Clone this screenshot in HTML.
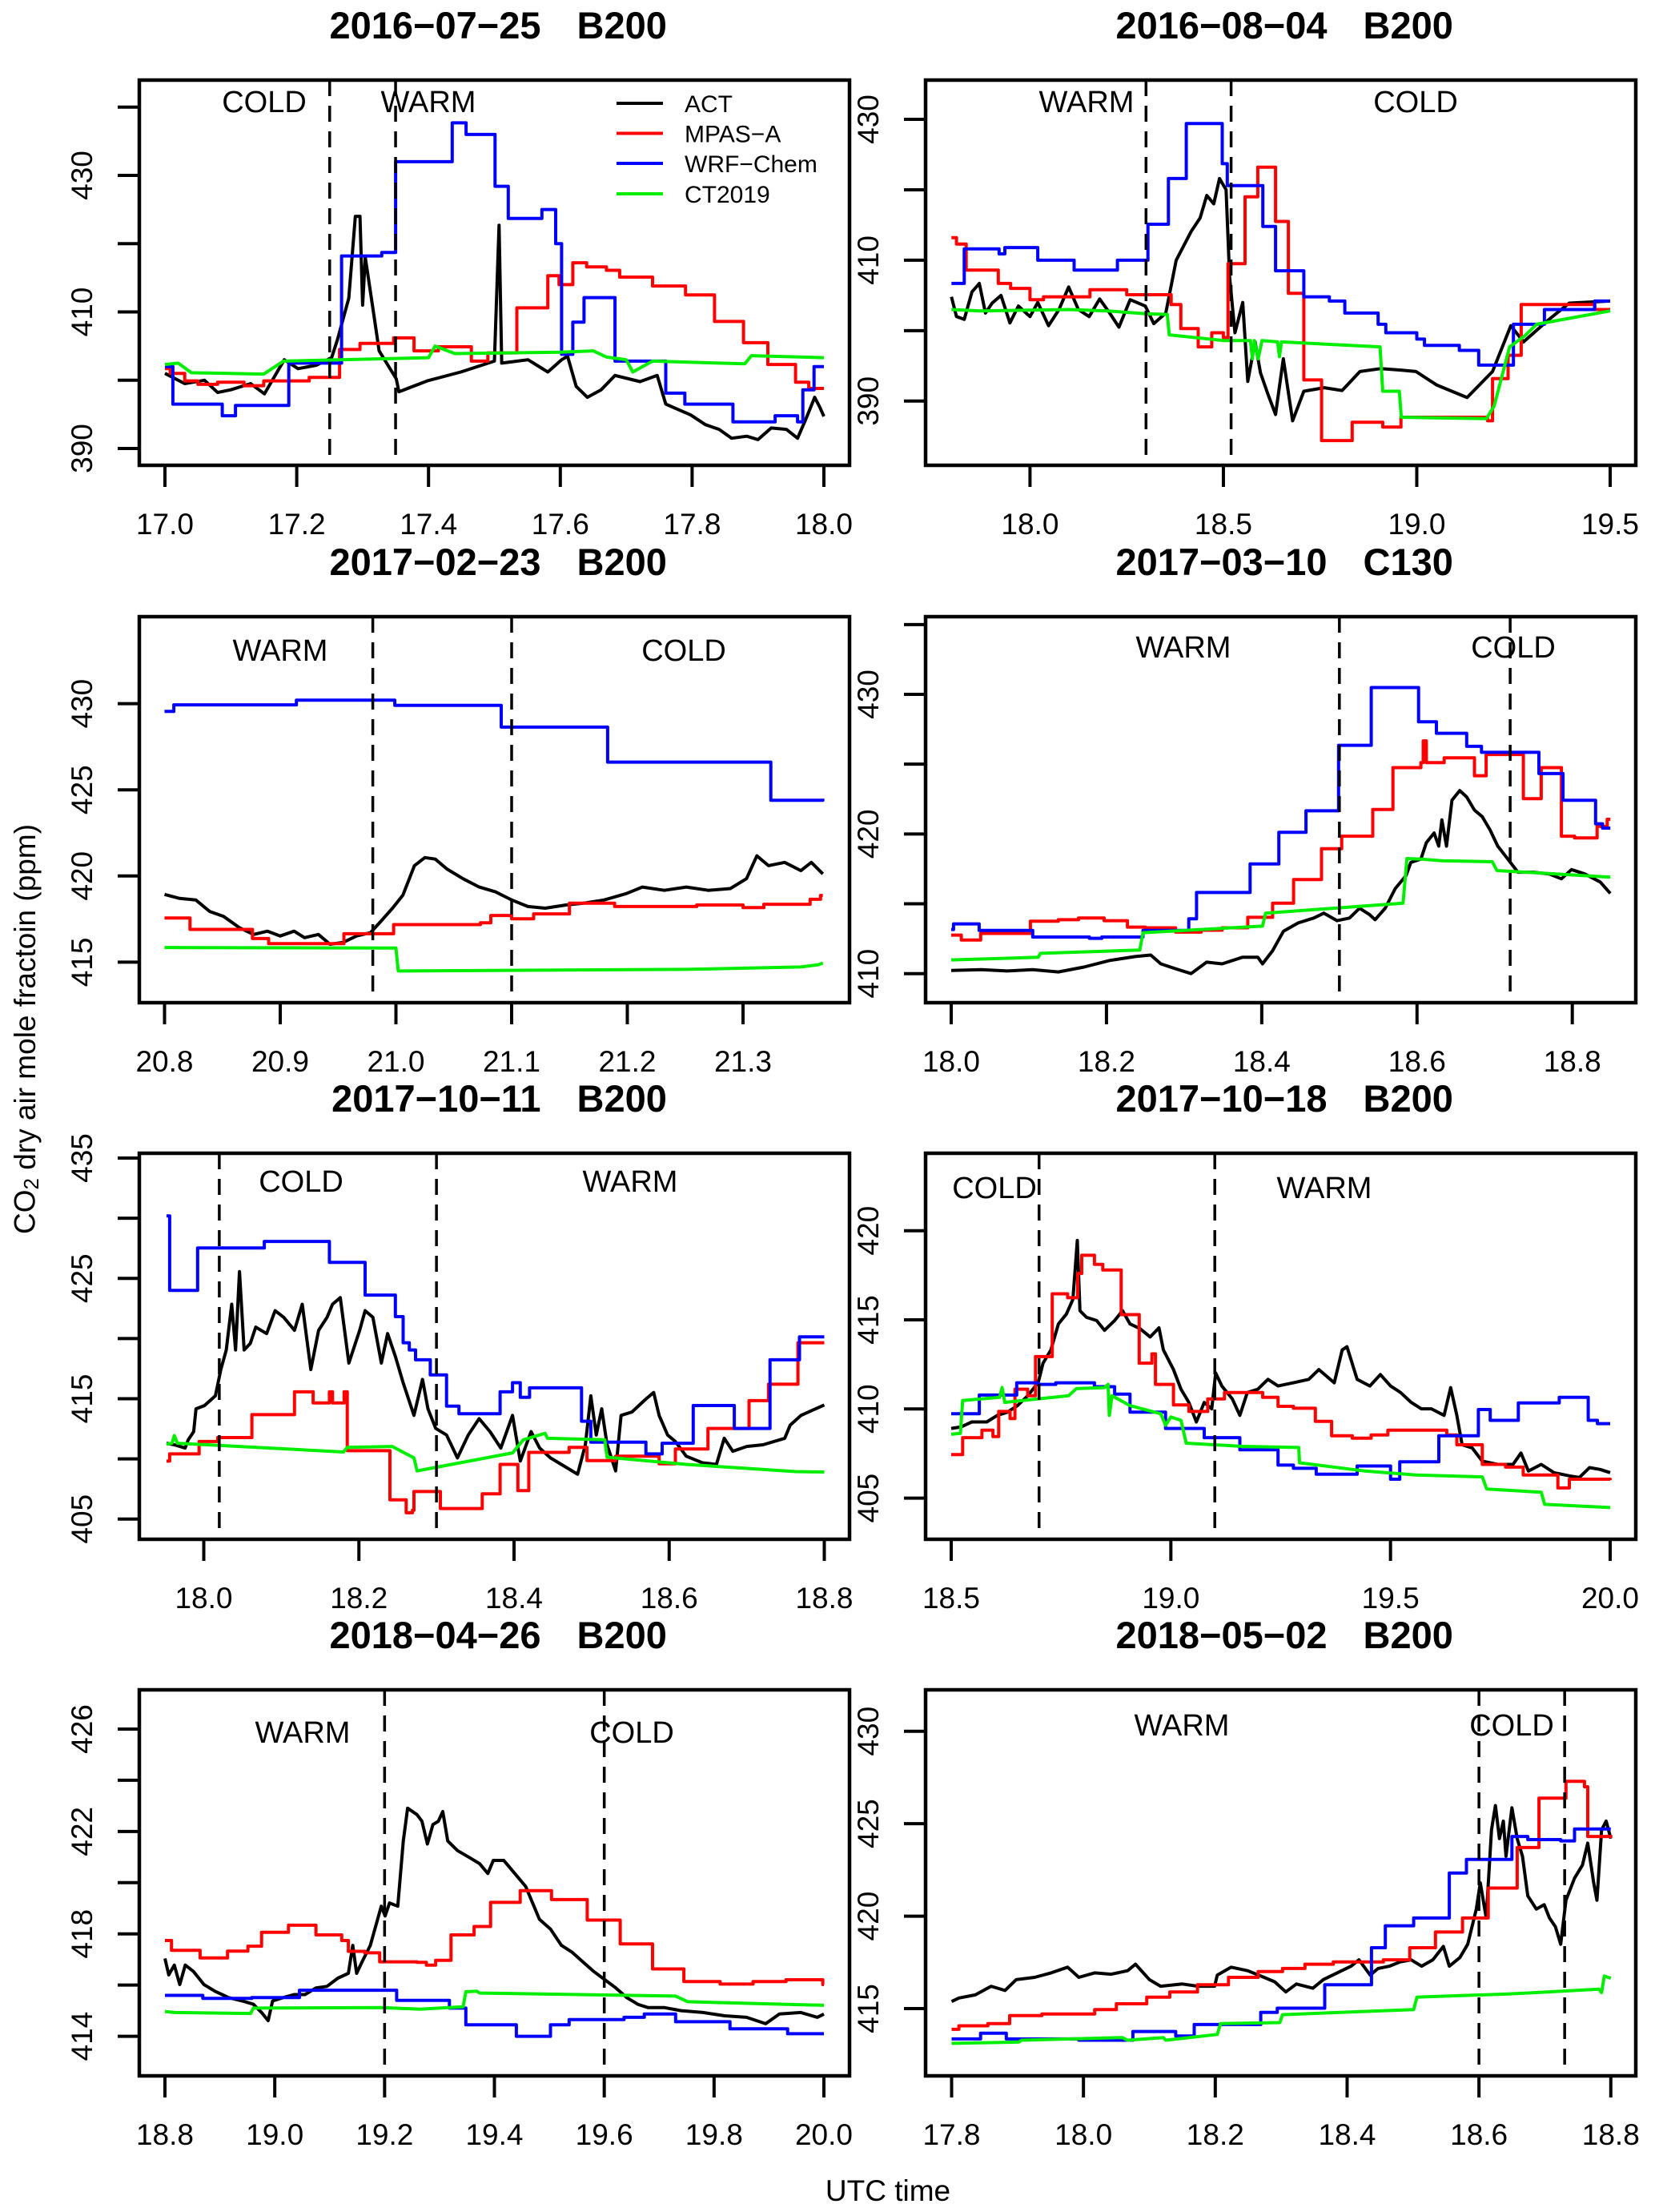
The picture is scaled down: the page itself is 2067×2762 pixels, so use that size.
<!DOCTYPE html>
<html><head><meta charset="utf-8"><title>CO2 flight comparison</title>
<style>
html,body{margin:0;padding:0;background:#fff;}
svg{display:block;font-family:"Liberation Sans",Arial,sans-serif;}
</style></head>
<body>
<svg id="fig" xmlns="http://www.w3.org/2000/svg" width="2067" height="2762" viewBox="0 0 2067 2762">
<rect x="0" y="0" width="2067" height="2762" fill="#fff"/>
<text x="31" y="1285" transform="rotate(-90 31 1285)" text-anchor="middle" dominant-baseline="central" font-size="37">CO<tspan font-size="26" dy="8">2</tspan><tspan dy="-8"> dry air mole fractoin (ppm)</tspan></text>
<text x="1109" y="2748" text-anchor="middle" font-size="37">UTC time</text>
</svg>
<script>
// ---------- data (time in UTC hours, CO2 ppm) ----------
const p1Act=[[17.0,401],[17.03,399.5],[17.06,400],[17.08,398.2],[17.1,398.6],[17.13,399.5],[17.151,398],[17.181,403],[17.202,401.7],[17.23,402.2],[17.253,403.3],[17.262,406],[17.279,412],[17.289,424],[17.296,424],[17.30,411],[17.304,418],[17.317,409.6],[17.325,404.3],[17.351,400.2],[17.355,398.3],[17.398,399.9],[17.449,401.2],[17.5,402.8],[17.507,422.7],[17.511,402.5],[17.551,403],[17.581,401.2],[17.602,403],[17.611,403.5],[17.624,399.1],[17.641,397.5],[17.662,398.6],[17.683,400.7],[17.721,399.8],[17.747,400.7],[17.76,396.5],[17.798,394.9],[17.82,393.5],[17.841,392.8],[17.86,391.5],[17.883,391.8],[17.9,391.3],[17.92,393],[17.943,392.8],[17.96,391.5],[17.973,394.4],[17.986,397.5],[17.994,396],[18.0,394.7]];
const p1Mpas=[[17.0,401.7],[17.008,401.0],[17.03,399.9],[17.05,399.4],[17.08,399.7],[17.12,399.2],[17.15,399.9],[17.219,400.4],[17.265,404.5],[17.296,405.4],[17.347,406.2],[17.378,404.3],[17.415,404.9],[17.465,402.8],[17.49,404],[17.534,410.6],[17.581,415.3],[17.598,414],[17.619,417.2],[17.64,416.6],[17.67,416.1],[17.69,415.1],[17.74,413.8],[17.79,412.5],[17.834,408.6],[17.878,405.5],[17.915,402.3],[17.957,399.7],[17.977,398.8],[18.0,398.8]];
const p1Wrf=[[17.0,402],[17.012,396.5],[17.087,394.8],[17.107,396.3],[17.188,402.5],[17.268,418.2],[17.329,418.7],[17.35,432],[17.436,437.7],[17.457,436],[17.501,428.4],[17.521,423.7],[17.572,425],[17.593,420],[17.602,403.8],[17.619,408.5],[17.636,412.1],[17.683,402.8],[17.76,398.1],[17.789,396.5],[17.862,393.9],[17.926,394.8],[17.96,393.9],[17.968,398.6],[17.985,402],[18.0,402]];
const p1Ct=[[17.0,402.3],[17.02,402.5],[17.04,401.1],[17.15,400.9],[17.18,402.8],[17.40,403.3],[17.41,405],[17.44,403.9],[17.6,404.1],[17.65,404.3],[17.67,403.4],[17.70,403.0],[17.71,401.2],[17.74,402.8],[17.88,402.4],[17.89,403.6],[18.0,403.3]];

const p2Act=[[17.797,404.8],[17.81,402],[17.83,401.6],[17.85,405.5],[17.869,406.7],[17.885,402.5],[17.902,403.9],[17.925,405],[17.948,401.1],[17.97,403.5],[18.0,402],[18.02,404],[18.048,400.7],[18.075,403],[18.1,406.2],[18.125,403],[18.153,402],[18.18,404.5],[18.206,402.5],[18.23,400.5],[18.259,404.4],[18.298,403.5],[18.32,401],[18.351,402.5],[18.378,410],[18.417,414.1],[18.44,416],[18.457,419.2],[18.475,418],[18.49,421.6],[18.507,420],[18.516,407.6],[18.53,399.7],[18.55,404],[18.563,392.8],[18.582,398.4],[18.596,394],[18.615,391],[18.635,388.1],[18.655,396],[18.679,387.2],[18.708,391.4],[18.761,391.9],[18.807,391.5],[18.853,394.2],[18.906,394.6],[18.959,394.4],[18.998,394.2],[19.051,392.3],[19.13,390.5],[19.196,394.2],[19.243,400.7],[19.276,398.4],[19.342,401.6],[19.394,403.9],[19.5,404.2]];
const p2Mpas=[[17.797,413.2],[17.81,412.3],[17.835,408.6],[17.918,406.7],[17.95,406.0],[18.0,404.4],[18.035,404.8],[18.155,405.8],[18.25,405.1],[18.365,403.7],[18.39,400.3],[18.435,397.7],[18.47,399.7],[18.50,399.0],[18.512,409.5],[18.556,419.0],[18.589,423.2],[18.635,415.5],[18.668,405.3],[18.708,393.0],[18.754,384.4],[18.833,387.0],[18.912,386.3],[18.959,387.7],[19.183,387.2],[19.196,393.2],[19.236,396.5],[19.27,403.7],[19.46,403.0],[19.5,403.0]];
const p2Wrf=[[17.797,406.7],[17.83,411.6],[17.92,410.9],[17.935,411.8],[18.02,410.0],[18.114,408.6],[18.226,410.0],[18.305,415.1],[18.358,421.6],[18.404,429.4],[18.497,423.7],[18.51,420.6],[18.602,414.8],[18.635,408.5],[18.708,404.8],[18.774,404.2],[18.814,402.5],[18.9,400.9],[18.92,399.7],[19.0,398.8],[19.02,397.9],[19.11,397.2],[19.16,395.1],[19.25,400.9],[19.33,403.0],[19.46,404.2],[19.5,404.2]];
const p2Ct=[[17.797,403],[17.87,402.8],[18.1,403],[18.2,402.8],[18.3,402.4],[18.355,402.3],[18.36,399.4],[18.5,398.6],[18.57,398.6],[18.575,396],[18.58,398.6],[18.59,396],[18.6,398.6],[18.64,398.4],[18.645,396.3],[18.65,398.4],[18.905,397.7],[18.912,391.4],[18.955,391.4],[18.96,387.7],[19.18,387.5],[19.2,389.3],[19.24,397.7],[19.28,399.3],[19.31,400.9],[19.5,402.8]];

const p3Act=[[20.800,418.93],[20.813,418.70],[20.827,418.61],[20.839,417.94],[20.851,417.66],[20.865,416.99],[20.877,416.61],[20.889,416.80],[20.900,416.52],[20.912,416.80],[20.921,416.42],[20.933,416.61],[20.943,416.04],[20.954,416.14],[20.966,416.52],[20.978,416.71],[20.987,417.37],[20.997,418.13],[21.006,418.89],[21.016,420.60],[21.025,421.07],[21.034,420.98],[21.044,420.41],[21.058,419.84],[21.072,419.36],[21.086,419.08],[21.100,418.61],[21.114,418.23],[21.129,418.13],[21.147,418.32],[21.162,418.42],[21.180,418.61],[21.199,418.98],[21.213,419.36],[21.232,419.17],[21.251,419.36],[21.270,419.17],[21.289,419.27],[21.303,419.84],[21.312,421.17],[21.322,420.60],[21.336,420.79],[21.350,420.31],[21.359,420.79],[21.369,420.12]];
const p3Mpas=[[20.8,417.56],[20.822,416.90],[20.876,416.37],[20.890,416.08],[20.955,416.65],[20.998,417.18],[21.073,417.28],[21.082,417.71],[21.100,417.52],[21.119,417.80],[21.150,418.42],[21.189,418.23],[21.26,418.32],[21.30,418.17],[21.318,418.36],[21.358,418.65],[21.367,418.87],[21.369,418.87]];
const p3Wrf=[[20.8,429.55],[20.808,429.93],[20.914,430.2],[20.999,429.9],[21.091,428.64],[21.183,426.61],[21.324,424.39],[21.369,424.49]];
const p3Ct=[[20.8,415.85],[21.0,415.82],[21.002,414.49],[21.25,414.58],[21.35,414.72],[21.365,414.85],[21.369,414.95]];

const p4Act=[[18.000,410.23],[18.039,410.28],[18.072,410.19],[18.105,410.28],[18.138,410.12],[18.171,410.47],[18.204,410.94],[18.237,411.22],[18.257,411.33],[18.270,410.70],[18.289,410.35],[18.309,410.00],[18.329,410.82],[18.349,410.70],[18.375,411.17],[18.395,411.17],[18.401,410.70],[18.414,411.64],[18.428,413.04],[18.447,413.63],[18.467,413.98],[18.480,414.33],[18.497,413.79],[18.513,413.98],[18.526,414.68],[18.539,414.22],[18.546,413.86],[18.559,414.68],[18.572,416.09],[18.586,417.03],[18.592,417.96],[18.605,418.20],[18.612,419.37],[18.622,420.07],[18.628,419.13],[18.632,421.01],[18.638,419.13],[18.645,422.41],[18.655,423.11],[18.664,422.65],[18.674,421.71],[18.684,421.24],[18.694,420.30],[18.704,419.13],[18.717,418.20],[18.730,417.26],[18.750,417.26],[18.770,417.14],[18.786,416.79],[18.799,417.45],[18.816,417.14],[18.836,416.56],[18.849,415.74]];
const p4Mpas=[[18.0,412.76],[18.013,412.41],[18.038,412.88],[18.102,413.75],[18.138,413.86],[18.164,413.98],[18.197,413.79],[18.227,413.33],[18.25,413.28],[18.289,412.97],[18.322,413.11],[18.349,413.28],[18.382,414.03],[18.414,415.04],[18.441,416.74],[18.477,418.95],[18.503,419.84],[18.543,421.76],[18.569,424.75],[18.605,425.11],[18.608,426.67],[18.612,425.11],[18.635,425.46],[18.674,424.17],[18.689,425.69],[18.737,422.53],[18.76,424.75],[18.786,419.84],[18.803,419.72],[18.832,420.54],[18.845,421.05],[18.849,421.05]];
const p4Wrf=[[18.0,413.16],[18.003,413.56],[18.036,413.09],[18.105,412.62],[18.178,412.53],[18.194,412.62],[18.247,413.09],[18.306,413.93],[18.316,415.81],[18.385,417.85],[18.422,420.12],[18.457,421.66],[18.499,426.35],[18.541,430.49],[18.602,428.03],[18.625,427.21],[18.664,426.28],[18.683,425.85],[18.757,424.33],[18.788,422.41],[18.830,420.73],[18.839,420.42],[18.849,420.42]];
const p4Ct=[[18.0,410.98],[18.112,411.17],[18.115,411.45],[18.243,411.69],[18.247,412.93],[18.401,413.40],[18.405,414.33],[18.582,415.04],[18.587,418.24],[18.605,418.20],[18.632,418.08],[18.697,418.01],[18.703,417.38],[18.849,416.91]];

const p5Act=[[17.952,411.30],[17.962,411.17],[17.976,410.90],[17.980,411.58],[17.987,412.26],[17.990,414.16],[18.001,414.43],[18.015,415.24],[18.022,417.42],[18.029,419.05],[18.036,422.85],[18.041,419.05],[18.046,425.57],[18.052,419.05],[18.060,419.59],[18.067,420.95],[18.081,420.41],[18.092,422.31],[18.103,421.77],[18.117,420.68],[18.127,422.85],[18.138,417.42],[18.148,420.68],[18.159,421.77],[18.166,422.85],[18.176,423.40],[18.187,417.96],[18.201,420.68],[18.208,422.31],[18.218,421.77],[18.229,417.96],[18.237,420.41],[18.247,418.51],[18.257,416.33],[18.271,413.61],[18.282,416.60],[18.289,414.16],[18.299,412.53],[18.313,411.98],[18.327,410.08],[18.341,411.98],[18.355,413.34],[18.369,412.26],[18.383,410.90],[18.398,413.61],[18.408,409.81],[18.422,412.26],[18.433,410.90],[18.447,410.08],[18.468,409.27],[18.482,408.72],[18.492,411.17],[18.499,415.24],[18.506,411.98],[18.513,414.16],[18.520,411.17],[18.531,409.00],[18.538,413.61],[18.552,413.89],[18.570,414.97],[18.580,415.52],[18.587,413.61],[18.598,411.98],[18.608,411.44],[18.622,410.22],[18.643,409.67],[18.661,409.54],[18.671,411.71],[18.682,410.63],[18.700,411.03],[18.721,411.17],[18.749,411.71],[18.756,412.80],[18.770,413.61],[18.784,414.02],[18.800,414.48]];
const p5Mpas=[[17.952,409.81],[17.956,410.41],[17.994,411.44],[18.018,411.77],[18.062,413.67],[18.117,415.57],[18.141,414.65],[18.162,415.57],[18.166,414.65],[18.181,415.57],[18.185,410.68],[18.240,406.6],[18.261,405.52],[18.269,405.73],[18.271,407.28],[18.305,405.87],[18.359,407.09],[18.382,409.54],[18.405,407.36],[18.419,410.54],[18.471,410.95],[18.494,409.86],[18.531,410.22],[18.587,409.59],[18.608,410.82],[18.650,412.53],[18.703,414.84],[18.728,416.2],[18.766,419.65],[18.8,419.65]];
const p5Wrf=[[17.952,430.19],[17.956,424.0],[17.992,427.53],[18.078,428.07],[18.162,426.33],[18.208,423.61],[18.247,421.82],[18.257,419.65],[18.265,419.05],[18.273,418.23],[18.292,416.98],[18.313,414.38],[18.329,413.75],[18.382,415.57],[18.398,416.33],[18.408,415.11],[18.420,415.9],[18.487,413.13],[18.499,411.39],[18.570,410.41],[18.591,411.3],[18.631,414.43],[18.684,412.53],[18.730,418.23],[18.768,420.14],[18.8,420.14]];
const p5Ct=[[17.952,411.22],[17.959,411.30],[17.962,411.93],[17.966,411.30],[18.180,410.57],[18.185,410.95],[18.243,411.03],[18.271,410.08],[18.275,409.0],[18.398,410.49],[18.412,411.58],[18.440,412.12],[18.443,411.71],[18.517,411.58],[18.520,410.14],[18.622,409.54],[18.763,408.94],[18.8,408.91]];

const p6Act=[[18.500,408.91],[18.523,409.00],[18.547,409.27],[18.581,409.27],[18.605,409.64],[18.628,409.82],[18.651,410.19],[18.674,410.74],[18.698,411.47],[18.709,412.57],[18.727,413.31],[18.744,414.77],[18.762,415.32],[18.777,416.15],[18.787,419.45],[18.793,415.51],[18.808,415.14],[18.831,414.96],[18.849,414.41],[18.872,414.96],[18.890,415.51],[18.907,414.77],[18.930,414.50],[18.953,414.04],[18.973,414.55],[18.983,413.31],[19.006,412.21],[19.023,411.11],[19.041,410.37],[19.058,409.27],[19.076,410.37],[19.093,410.01],[19.102,412.02],[19.116,411.29],[19.140,410.56],[19.157,409.64],[19.174,410.92],[19.198,411.11],[19.221,411.66],[19.244,411.29],[19.279,411.47],[19.314,411.66],[19.337,412.21],[19.372,411.47],[19.390,413.31],[19.401,413.49],[19.424,411.66],[19.453,411.29],[19.477,411.93],[19.500,411.29],[19.523,410.92],[19.547,410.37],[19.570,410.01],[19.593,410.01],[19.622,409.64],[19.637,411.20],[19.651,409.64],[19.663,407.99],[19.686,407.81],[19.709,407.07],[19.744,406.89],[19.779,406.89],[19.797,407.53],[19.814,406.52],[19.843,406.89],[19.872,406.43],[19.907,406.25],[19.930,406.16],[19.953,406.71],[19.977,406.61],[20.000,406.43]];
const p6Mpas=[[18.5,407.44],[18.526,408.39],[18.570,408.81],[18.595,408.45],[18.608,409.86],[18.634,409.46],[18.645,411.11],[18.674,410.74],[18.692,412.94],[18.730,416.46],[18.765,416.24],[18.788,417.60],[18.797,418.62],[18.826,418.11],[18.845,417.80],[18.887,415.29],[18.928,412.57],[18.957,413.09],[18.965,411.38],[19.006,410.23],[19.041,409.86],[19.084,410.56],[19.122,410.92],[19.209,410.65],[19.244,410.15],[19.279,410.04],[19.329,409.31],[19.366,408.50],[19.413,408.36],[19.456,408.54],[19.494,408.81],[19.628,408.54],[19.651,407.99],[19.709,406.89],[19.762,406.74],[19.802,406.30],[19.881,405.57],[19.907,406.06],[20.0,406.01]];
const p6Wrf=[[18.5,409.73],[18.564,410.78],[18.649,411.47],[18.698,411.38],[18.738,411.47],[18.826,411.25],[18.872,410.83],[18.907,409.82],[18.988,408.91],[19.076,408.39],[19.157,407.71],[19.244,406.85],[19.279,406.67],[19.331,406.34],[19.424,406.80],[19.5,406.06],[19.521,407.04],[19.610,408.50],[19.700,409.97],[19.727,409.36],[19.791,410.34],[19.884,410.65],[19.950,409.36],[19.971,409.18],[20.0,409.18]];
const p6Ct=[[18.5,408.58],[18.521,408.63],[18.526,410.47],[18.610,410.65],[18.616,411.20],[18.622,410.37],[18.767,410.74],[18.785,411.14],[18.849,411.20],[18.857,411.38],[18.860,409.64],[18.866,410.74],[18.907,410.19],[18.977,409.73],[18.988,409.09],[19.0,409.55],[19.023,409.36],[19.035,408.08],[19.163,407.90],[19.291,407.84],[19.293,406.98],[19.442,406.52],[19.558,406.30],[19.709,406.19],[19.719,405.51],[19.843,405.33],[19.851,404.65],[20.0,404.47]];

const p7Act=[[18.800,417.04],[18.807,416.40],[18.817,416.78],[18.827,416.02],[18.837,416.78],[18.852,416.53],[18.871,416.02],[18.891,415.76],[18.916,415.51],[18.941,415.38],[18.961,415.25],[18.976,414.93],[18.988,414.61],[18.996,415.38],[19.015,415.51],[19.035,415.63],[19.055,415.63],[19.075,415.89],[19.095,415.95],[19.115,416.27],[19.134,416.46],[19.142,417.55],[19.149,416.46],[19.159,416.91],[19.174,417.55],[19.184,418.32],[19.194,419.08],[19.201,418.70],[19.209,419.21],[19.224,419.08],[19.234,421.63],[19.242,422.91],[19.259,422.66],[19.268,422.40],[19.278,421.51],[19.288,422.27],[19.298,422.40],[19.306,422.78],[19.315,421.63],[19.333,421.25],[19.353,421.00],[19.373,420.74],[19.388,420.36],[19.398,420.87],[19.417,420.87],[19.437,420.36],[19.457,419.85],[19.482,418.57],[19.502,418.19],[19.522,417.55],[19.541,417.29],[19.561,416.91],[19.581,416.53],[19.601,416.21],[19.621,415.89],[19.641,415.51],[19.661,415.25],[19.680,415.12],[19.710,415.12],[19.740,415.00],[19.780,414.93],[19.819,414.80],[19.859,414.74],[19.894,414.49],[19.919,414.87],[19.958,414.93],[19.988,414.74],[20.000,414.87]];
const p7Mpas=[[18.8,417.74],[18.812,417.36],[18.864,417.06],[18.914,417.33],[18.951,417.52],[18.976,418.06],[19.025,418.34],[19.075,417.96],[19.122,417.74],[19.134,417.32],[19.164,417.26],[19.191,416.91],[19.259,416.89],[19.276,416.78],[19.293,416.97],[19.321,417.96],[19.363,418.29],[19.393,419.23],[19.447,419.69],[19.504,419.34],[19.569,418.54],[19.629,417.61],[19.688,416.63],[19.745,416.14],[19.811,416.04],[19.871,416.14],[19.931,416.21],[19.998,416.02],[20.0,416.02]];
const p7Wrf=[[18.8,415.60],[18.869,415.48],[18.958,415.51],[19.045,415.80],[19.222,415.40],[19.318,415.10],[19.348,414.45],[19.440,414.0],[19.502,414.45],[19.536,414.65],[19.636,414.74],[19.673,414.87],[19.730,414.57],[19.829,414.29],[19.934,414.10],[20.0,414.10]];
const p7Ct=[[18.8,414.97],[18.817,414.93],[18.956,414.89],[18.961,415.10],[19.194,415.12],[19.264,415.06],[19.343,415.15],[19.348,415.74],[19.368,415.76],[19.373,415.69],[19.730,415.57],[19.752,415.35],[20.0,415.21]];

const p8Act=[[17.800,415.38],[17.811,415.57],[17.836,415.74],[17.860,416.21],[17.881,415.98],[17.898,416.57],[17.926,416.69],[17.951,416.93],[17.976,417.24],[17.993,416.69],[18.017,416.93],[18.042,416.86],[18.067,417.05],[18.079,417.40],[18.100,416.57],[18.117,416.21],[18.150,416.33],[18.174,416.21],[18.199,416.21],[18.203,416.81],[18.224,417.24],[18.249,417.05],[18.274,416.69],[18.290,416.45],[18.307,415.90],[18.323,416.33],[18.348,416.10],[18.364,416.57],[18.385,416.93],[18.406,417.29],[18.418,417.64],[18.435,416.81],[18.447,417.17],[18.464,417.29],[18.480,417.52],[18.497,417.64],[18.513,417.29],[18.530,417.64],[18.546,418.36],[18.555,417.29],[18.571,417.76],[18.583,418.48],[18.596,420.38],[18.602,421.81],[18.611,419.90],[18.619,424.67],[18.625,425.98],[18.631,424.19],[18.637,425.14],[18.641,423.24],[18.650,425.86],[18.658,424.19],[18.666,423.24],[18.674,421.10],[18.687,420.38],[18.699,420.62],[18.707,419.90],[18.716,419.43],[18.724,418.48],[18.732,420.86],[18.745,422.05],[18.757,422.76],[18.765,423.95],[18.774,421.81],[18.779,420.86],[18.786,424.67],[18.793,425.14],[18.800,424.19]];
const p8Mpas=[[17.8,413.88],[17.811,414.07],[17.855,414.19],[17.888,414.62],[17.937,414.71],[18.017,414.95],[18.050,415.26],[18.096,415.62],[18.131,415.90],[18.173,416.29],[18.220,416.69],[18.265,417.0],[18.302,417.17],[18.336,417.40],[18.379,417.52],[18.455,417.64],[18.495,418.29],[18.534,419.14],[18.575,419.90],[18.614,421.52],[18.658,423.71],[18.691,426.38],[18.732,427.29],[18.760,427.0],[18.765,424.31],[18.8,424.38]];
const p8Wrf=[[17.8,413.36],[17.844,413.67],[17.883,413.36],[17.993,413.29],[18.075,413.76],[18.140,413.52],[18.168,414.14],[18.269,414.79],[18.294,415.02],[18.366,416.29],[18.437,418.29],[18.458,419.48],[18.501,419.90],[18.555,422.33],[18.581,423.07],[18.650,424.31],[18.674,424.14],[18.724,424.07],[18.745,424.71],[18.8,424.71]];
const p8Ct=[[17.8,413.12],[17.902,413.19],[17.906,413.29],[18.059,413.43],[18.067,413.29],[18.121,413.43],[18.125,413.29],[18.203,413.60],[18.208,414.19],[18.298,414.24],[18.302,414.67],[18.501,414.95],[18.506,415.62],[18.645,415.79],[18.782,416.05],[18.786,415.86],[18.790,416.76],[18.8,416.64]];

// ---------- panel layout / axis definitions ----------
const panels=[
 {id:'2016-07-25',ac:'B200',frame:[174,100,1061,581],xa:[17,206,18,1029],ya:[390,560,430,219],
  xt:[17.0,17.2,17.4,17.6,17.8,18.0],yt:[390,400,410,420,430,440],yl:[390,410,430],div:[17.25,17.35],
  zones:[['COLD',330,127],['WARM',535,127]],s:[p1Act,p1Mpas,p1Wrf,p1Ct],legend:true},
 {id:'2016-08-04',ac:'B200',frame:[1156,100,2043,581],xa:[18,1286.4,19.5,2011],ya:[390,500.8,430,149],
  xt:[18.0,18.5,19.0,19.5],yt:[390,400,410,420,430],yl:[390,410,430],div:[18.3,18.52],
  zones:[['WARM',1357,127],['COLD',1768,127]],s:[p2Act,p2Mpas,p2Wrf,p2Ct]},
 {id:'2017-02-23',ac:'B200',frame:[174,770,1061,1252],xa:[20.8,205.5,21.3,928],ya:[415,1201.4,430,878.6],
  xt:[20.8,20.9,21.0,21.1,21.2,21.3],yt:[415,420,425,430],yl:[415,420,425,430],div:[20.98,21.1],
  zones:[['WARM',350,812],['COLD',854,812]],s:[p3Act,p3Mpas,p3Wrf,p3Ct]},
 {id:'2017-03-10',ac:'C130',frame:[1156,770,2043,1252],xa:[18,1188,18.8,1963.7],ya:[410,1215.7,430,867],
  xt:[18.0,18.2,18.4,18.6,18.8],yt:[410,415,420,425,430,435],yl:[410,420,430],div:[18.5,18.72],
  zones:[['WARM',1478,808],['COLD',1890,808]],s:[p4Act,p4Mpas,p4Wrf,p4Ct]},
 {id:'2017-10-11',ac:'B200',frame:[174,1440,1061,1922],xa:[18,254.5,18.8,1029.5],ya:[405,1896.7,435,1446],
  xt:[18.0,18.2,18.4,18.6,18.8],yt:[405,410,415,420,425,430,435],yl:[405,415,425,435],div:[18.02,18.3],
  zones:[['COLD',376,1475],['WARM',787,1475]],s:[p5Act,p5Mpas,p5Wrf,p5Ct]},
 {id:'2017-10-18',ac:'B200',frame:[1156,1440,2043,1922],xa:[18.5,1188,20,2011],ya:[405,1870.6,420,1536.7],
  xt:[18.5,19.0,19.5,20.0],yt:[405,410,415,420],yl:[405,410,415,420],div:[18.7,19.1],
  zones:[['COLD',1242,1483],['WARM',1654,1483]],s:[p6Act,p6Mpas,p6Wrf,p6Ct]},
 {id:'2018-04-26',ac:'B200',frame:[174,2110,1061,2592],xa:[18.8,206,20,1029],ya:[414,2542.6,426,2159],
  xt:[18.8,19.0,19.2,19.4,19.6,19.8,20.0],yt:[414,416,418,420,422,424,426],yl:[414,418,422,426],div:[19.2,19.6],
  zones:[['WARM',378,2163],['COLD',789,2163]],s:[p7Act,p7Mpas,p7Wrf,p7Ct]},
 {id:'2018-05-02',ac:'B200',frame:[1156,2110,2043,2592],xa:[17.8,1188.5,18.8,2011.8],ya:[415,2508,430,2161.7],
  xt:[17.8,18.0,18.2,18.4,18.6,18.8],yt:[415,420,425,430],yl:[415,420,425,430],div:[18.6,18.73],
  zones:[['WARM',1476,2154],['COLD',1888,2154]],s:[p8Act,p8Mpas,p8Wrf,p8Ct]}
];
const seriesNames=['ACT','MPAS-A','WRF-Chem','CT2019'];
const seriesColors=['#000000','#ff0000','#0000ff','#00ee00'];
const seriesStep=[false,true,true,false];

const NS='http://www.w3.org/2000/svg';
const svg=document.getElementById('fig');
function mk(tag,attrs,parent){const e=document.createElementNS(NS,tag);for(const k in attrs)e.setAttribute(k,attrs[k]);(parent||svg).appendChild(e);return e;}

panels.forEach((p,pi)=>{
  const [L,T,R,B]=p.frame;
  const sx=v=>p.xa[1]+(v-p.xa[0])*(p.xa[3]-p.xa[1])/(p.xa[2]-p.xa[0]);
  const sy=v=>p.ya[1]+(v-p.ya[0])*(p.ya[3]-p.ya[1])/(p.ya[2]-p.ya[0]);
  const g=mk('g',{});
  
  
  const cx=(L+R)/2, ty=T-52;
  const t1=mk('text',{x:cx+58,y:ty,'text-anchor':'end','font-size':47,'font-weight':'bold'},g);
  t1.textContent=p.id.replace(/-/g,'\u2212');
  
  
  const t2=mk('text',{x:cx+103,y:ty,'text-anchor':'start','font-size':47,'font-weight':'bold'},g);
  t2.textContent=p.ac;
  
  
  const clipId='clip'+pi;
  const cp=mk('clipPath',{id:clipId},g);
  mk('rect',{x:L,y:T,width:R-L,height:B-T},cp);
  const plot=mk('g',{'clip-path':'url(#'+clipId+')'},g);
  
  
  p.s.forEach((data,si)=>{
    let d='';
    if(seriesStep[si]){
      d='M'+sx(data[0][0]).toFixed(1)+' '+sy(data[0][1]).toFixed(1);
      for(let i=1;i<data.length;i++){d+='H'+sx(data[i][0]).toFixed(1)+'V'+sy(data[i][1]).toFixed(1);}
    } else {
      data.forEach((pt,i)=>{d+=(i?'L':'M')+sx(pt[0]).toFixed(1)+' '+sy(pt[1]).toFixed(1);});
    }
    const path=mk('path',{d:d,fill:'none',stroke:seriesColors[si],'stroke-width':4,'stroke-linejoin':'round'},plot);
    
    
  });
  p.div.forEach(v=>{
    const ln=mk('line',{x1:sx(v),x2:sx(v),y1:T,y2:B,stroke:'#000','stroke-width':3.5,'stroke-dasharray':'20 12'},g);
    
    
  });
  p.zones.forEach(z=>{
    const zt=mk('text',{x:z[1],y:z[2]+13,'text-anchor':'middle','font-size':38},g);
    zt.textContent=z[0];
    
    
  });
  const fr=mk('rect',{x:L,y:T,width:R-L,height:B-T,fill:'none',stroke:'#000','stroke-width':4.5},g);
  
  
  p.xt.forEach(v=>{
    const tk=mk('line',{x1:sx(v),x2:sx(v),y1:B,y2:B+27,stroke:'#000','stroke-width':4},g);
    
    
    const tl=mk('text',{x:sx(v),y:B+86,'text-anchor':'middle','font-size':37},g);
    tl.textContent=v.toFixed(1);
    
    
  });
  p.yt.forEach(v=>{
    const tk=mk('line',{x1:L-27,x2:L,y1:sy(v),y2:sy(v),stroke:'#000','stroke-width':4},g);
    
    
  });
  p.yl.forEach(v=>{
    const lx=L-59, ly=sy(v);
    const tl=mk('text',{x:lx,y:ly,'text-anchor':'middle',transform:'rotate(-90 '+lx+' '+ly+')','font-size':37},g);
    tl.textContent=String(v);
    
    
  });
  if(p.legend){
    const lg=mk('g',{},g);
    
    
    const rows=[129,166.5,204,242];
    seriesNames.forEach((n,i)=>{
      const ll=mk('line',{x1:770,x2:828,y1:rows[i],y2:rows[i],stroke:seriesColors[i],'stroke-width':4},lg);
      
      
      const lt=mk('text',{x:855,y:rows[i]+11,'font-size':30},lg);
      lt.textContent=n.replace('-','\u2212');
      
      
    });
  }
});
</script>
</body></html>
